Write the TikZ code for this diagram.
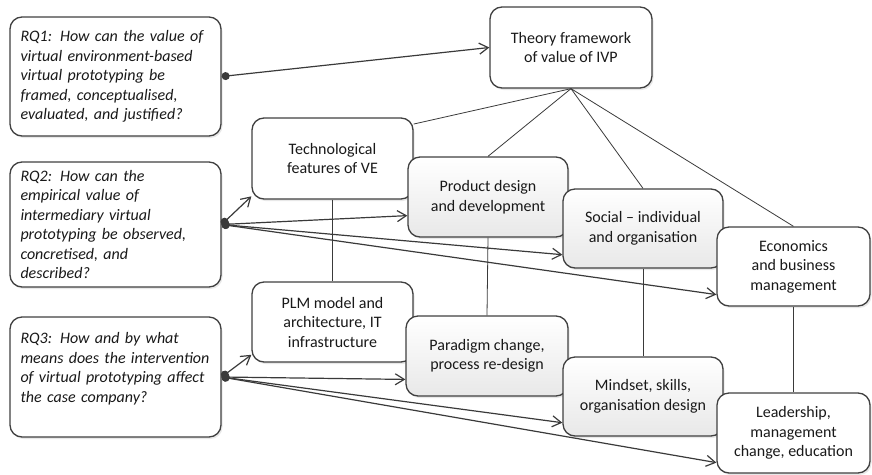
\documentclass[tikz,border=0pt]{standalone}
\usepackage{fontspec}
\setmainfont{Carlito}
\usetikzlibrary{arrows.meta,shadows}
\definecolor{boxline}{RGB}{64,64,64}
\definecolor{linkgray}{RGB}{58,58,58}

\begin{document}
\begin{tikzpicture}[x=1pt, y=-1pt,
    every node/.style={font=\fontsize{16}{19.5}\selectfont, text=black!90},
    box/.style={draw=boxline, line width=1.3pt, rounded corners=12pt, fill=white,
        align=center, inner sep=2pt,
        drop shadow={shadow xshift=1.5pt, shadow yshift=-2pt, opacity=0.18}},
    rqbox/.style={box, align=left, text width=190pt, minimum width=211pt,
        font=\fontsize{16}{19.5}\selectfont\itshape},
    shadebox/.style={box, top color=white, middle color=white, bottom color=gray!18},
    link/.style={draw=linkgray, line width=1.2pt,
        {Circle[length=8pt]}-{Straight Barb[length=9pt, width=11pt]}},
    tie/.style={draw=linkgray, line width=0.8pt}]
    \useasboundingbox (0,0) rectangle (872,474);

    % research questions
    \node (rq1) [rqbox, minimum height=119pt] at (115.5,76.5)
        {RQ1: How can the value of\\ virtual environment-based\\ virtual prototyping be\\
         framed, conceptualised,\\ evaluated, and justified?};
    \node (rq2) [rqbox, minimum height=125pt] at (115.5,224.5)
        {RQ2: How can the\\ empirical value of\\ intermediary virtual\\
         prototyping be observed,\\ concretised, and\\ described?};
    \node (rq3) [rqbox, minimum height=120pt] at (115.5,377)
        {RQ3: How and by what\\ means does the intervention\\ of virtual prototyping affect\\
         the case company?\\ \mbox{}};

    % value areas
    \node (theory) [box, minimum width=162pt, minimum height=81pt] at (571,47.5)
        {Theory framework\\ of value of IVP};
    \node (tech) [box, minimum width=161pt, minimum height=81pt] at (332.5,158.5)
        {Technological\\ features of VE};
    \node (plm) [box, minimum width=161pt, minimum height=80pt] at (332.5,322)
        {PLM model and\\ architecture, IT\\ infrastructure};
    \node (product) [shadebox, minimum width=160pt, minimum height=80pt] at (488,197)
        {Product design\\ and development};
    \node (paradigm) [shadebox, minimum width=162pt, minimum height=80pt] at (487,356)
        {Paradigm change,\\ process re-design};
    \node (social) [shadebox, minimum width=160pt, minimum height=79pt] at (643,228.5)
        {Social -- individual\\ and organisation};
    \node (mindset) [shadebox, minimum width=160pt, minimum height=79pt] at (643,396.5)
        {Mindset, skills,\\ organisation design};
    \node (econ) [box, minimum width=153pt, minimum height=79pt] at (793.5,266.5)
        {Economics\\ and business\\ management};
    \node (lead) [box, minimum width=153pt, minimum height=80pt] at (793.5,433)
        {Leadership,\\ management\\ change, education};

    \draw[link] (rq1.east) -- (theory.west);
    \foreach \to/\ang in {tech/205, product/193, social/198, econ/200}
        \draw[link] (rq2.east) -- (\to.\ang);
    \foreach \to/\ang in {plm/202, paradigm/196, mindset/198, lead/201}
        \draw[link] (rq3.east) -- (\to.\ang);

    \draw[tie] (theory.south) -- (tech.23);
    \foreach \to in {product, social, econ}
        \draw[tie] (theory.south) -- (\to.north);
    \draw[tie] (tech.south) -- (plm.north);
    \draw[tie] (product.south) -- (paradigm.north);
    \draw[tie] (social.south) -- (mindset.north);
    \draw[tie] (econ.south) -- (lead.north);

\end{tikzpicture}
\end{document}
